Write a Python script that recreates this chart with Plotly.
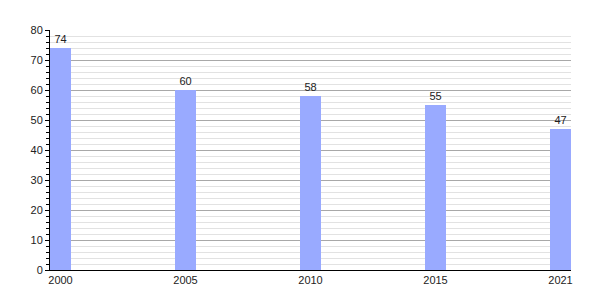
import plotly.graph_objects as go

years = ["2000", "2005", "2010", "2015", "2021"]
values = [74, 60, 58, 55, 47]
y_ticks = [0, 10, 20, 30, 40, 50, 60, 70, 80]

fig = go.Figure()
fig.add_trace(go.Bar(
    x=years, y=values,
    marker=dict(color="#99aaff", line=dict(width=0)),
    width=0.168,
    text=[str(v) for v in values],
    textposition="outside",
    textfont=dict(size=11, color="#222222", family="Liberation Sans, Arial, sans-serif"),
    cliponaxis=False,
))

fig.update_layout(
    width=600, height=300,
    margin=dict(l=50, r=29, t=30, b=30),
    paper_bgcolor="white", plot_bgcolor="white",
    showlegend=False,
    font=dict(family="Liberation Sans, Arial, sans-serif", size=11, color="#222222"),
    bargap=0,
)
fig.update_xaxes(
    type="category",
    range=[-0.084, 4.084],
    showgrid=False,
    showline=True, linecolor="black", linewidth=1,
    ticks="", tickfont=dict(size=11),
    ticklabelstandoff=0,
)
fig.update_yaxes(
    range=[0, 80],
    tickvals=y_ticks,
    showgrid=True, gridcolor="#a8a8a8", gridwidth=1,
    showline=True, linecolor="black", linewidth=1,
    ticks="outside", ticklen=4, tickcolor="black",
    tickfont=dict(size=11),
    zeroline=False,
    minor=dict(dtick=2, showgrid=True, gridcolor="#e2e2e2", gridwidth=1,
               ticks="outside", ticklen=3, tickcolor="black"),
)

fig.write_html("out.html")
